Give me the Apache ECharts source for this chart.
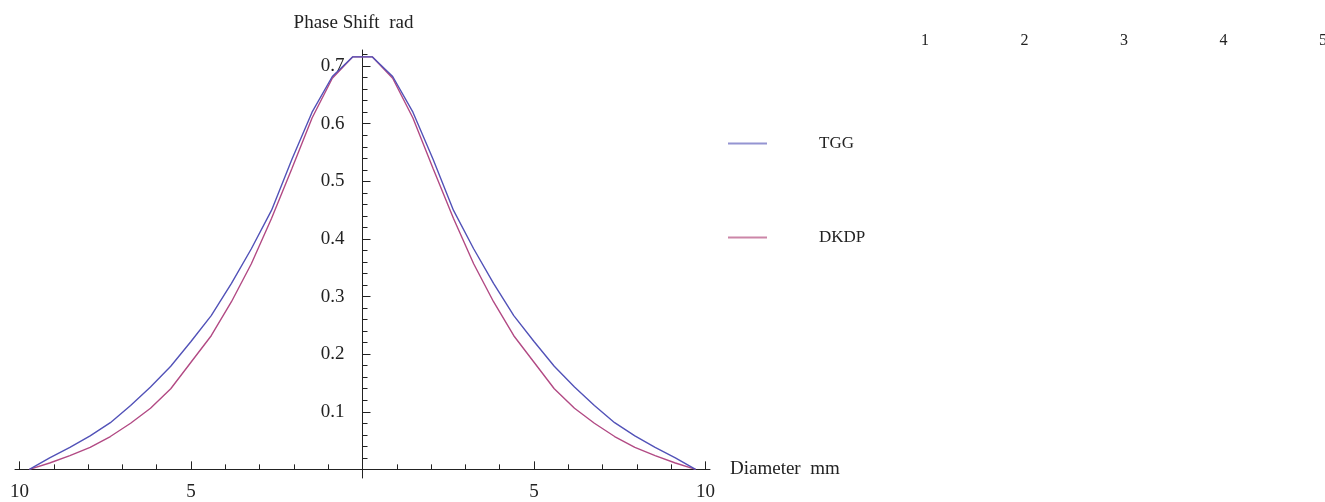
<!DOCTYPE html>
<html>
<head>
<meta charset="utf-8">
<script src="https://cdn.jsdelivr.net/npm/echarts@6/dist/echarts.min.js"></script>
<style>
  html, body { margin: 0; padding: 0; background: #fff; }
  #main { width: 1325px; height: 502px; }
</style>
</head>
<body>
<div id="main"></div>
<script>
// sample positions along the diameter (mm)
const diam = [-9.71, -9.12, -8.53, -7.94, -7.35, -6.76, -6.18, -5.59, -5.0, -4.41, -3.82, -3.24, -2.65, -2.06, -1.47, -0.88, -0.29,
              0.29, 0.88, 1.47, 2.06, 2.65, 3.24, 3.82, 4.41, 5.0, 5.59, 6.18, 6.76, 7.35, 7.94, 8.53, 9.12, 9.71];
// phase shift (rad)
const tgg  = [0.000, 0.020, 0.038, 0.058, 0.081, 0.111, 0.143, 0.179, 0.222, 0.267, 0.323, 0.383, 0.450, 0.538, 0.620, 0.682, 0.716,
              0.716, 0.682, 0.620, 0.538, 0.450, 0.383, 0.323, 0.267, 0.222, 0.179, 0.143, 0.111, 0.081, 0.058, 0.038, 0.020, 0.000];
const dkdp = [0.000, 0.011, 0.024, 0.038, 0.057, 0.080, 0.106, 0.140, 0.186, 0.232, 0.291, 0.357, 0.436, 0.522, 0.610, 0.679, 0.716,
              0.716, 0.679, 0.610, 0.522, 0.436, 0.357, 0.291, 0.232, 0.186, 0.140, 0.106, 0.080, 0.057, 0.038, 0.024, 0.011, 0.000];
// ticks
const xMajor = [-10, -5, 5, 10];
const xMinor = [-10, -9, -8, -7, -6, -5, -4, -3, -2, -1, 1, 2, 3, 4, 5, 6, 7, 8, 9, 10];
const yMajor = [0.1, 0.2, 0.3, 0.4, 0.5, 0.6, 0.7];
const yMinor = [0.02, 0.04, 0.06, 0.08, 0.12, 0.14, 0.16, 0.18, 0.22, 0.24, 0.26, 0.28, 0.32, 0.34, 0.36, 0.38,
                0.42, 0.44, 0.46, 0.48, 0.52, 0.54, 0.56, 0.58, 0.62, 0.64, 0.66, 0.68, 0.72];
const topLabels = [1, 2, 3, 4, 5];

const FONT = "'Liberation Serif', 'DejaVu Serif', serif";
const TXT = '#222';
const AX = '#222';

const chart = echarts.init(document.getElementById('main'), null, {renderer: 'canvas'});

const xRange = {min: -10.13, max: 10.13};
const yRange = {min: -0.015, max: 0.728};
const G = {left: 15, right: 615, top: 50, bottom: 24};
const gw = 1325 - G.left - G.right, gh = 502 - G.top - G.bottom;
// axes cross at (0,0): shift them inside the grid
const yOff = -(0 - xRange.min) / (xRange.max - xRange.min) * gw;
const xOff = -(0 - yRange.min) / (yRange.max - yRange.min) * gh;

chart.setOption({
    backgroundColor: '#fff',
    animation: false,
    grid: [
        Object.assign({outerBoundsMode: 'none', containLabel: false}, G),
        {left: 925, right: 2, top: 51, height: 10, outerBoundsMode: 'none', containLabel: false}
    ],
    legend: {
        orient: 'vertical',
        left: 728,
        top: 135,
        padding: 0,
        itemGap: 77,
        itemWidth: 39,
        itemHeight: 2,
        icon: 'rect',
        textStyle: {fontFamily: FONT, fontSize: 17, color: TXT, padding: [0, 0, 0, 47]},
        data: [
            {name: 'TGG', itemStyle: {color: '#9494d2'}},
            {name: 'DKDP', itemStyle: {color: '#cc86a8'}}
        ]
    },
    xAxis: [
        {
            type: 'value', gridIndex: 0, min: xRange.min, max: xRange.max, position: 'bottom', offset: xOff,
            name: 'Diameter  mm', nameLocation: 'end', nameGap: 20,
            nameTextStyle: {fontFamily: FONT, fontSize: 19, color: TXT, align: 'left', verticalAlign: 'middle'},
            axisLine: {show: true, onZero: false, lineStyle: {color: AX, width: 1}},
            axisTick: {show: true, inside: true, length: 8, customValues: xMajor, lineStyle: {color: AX}},
            axisLabel: {show: true, customValues: xMajor, margin: 13, fontFamily: FONT, fontSize: 19, color: TXT,
                formatter: v => String(Math.abs(v))},
            splitLine: {show: false}
        },
        {
            type: 'value', gridIndex: 0, min: xRange.min, max: xRange.max, position: 'bottom', offset: xOff,
            axisLine: {show: false, onZero: false},
            axisTick: {show: true, inside: true, length: 5, customValues: xMinor, lineStyle: {color: AX}},
            axisLabel: {show: false},
            splitLine: {show: false}
        },
        {
            type: 'value', gridIndex: 1, min: 1, max: 5, interval: 1, position: 'top',
            axisLine: {show: false}, axisTick: {show: false}, splitLine: {show: false},
            axisLabel: {show: true, margin: 2, fontFamily: FONT, fontSize: 16, color: TXT,
                customValues: topLabels, formatter: v => String(v)}
        }
    ],
    yAxis: [
        {
            type: 'value', gridIndex: 0, min: yRange.min, max: yRange.max, position: 'left', offset: yOff,
            name: 'Phase Shift  rad', nameLocation: 'end', nameGap: 17,
            nameTextStyle: {fontFamily: FONT, fontSize: 19, color: TXT, align: 'center', padding: [0, 18, 0, 0]},
            axisLine: {show: true, onZero: false, lineStyle: {color: AX, width: 1}},
            axisTick: {show: true, inside: true, length: 8, customValues: yMajor, lineStyle: {color: AX}},
            axisLabel: {show: true, customValues: yMajor, margin: 18, fontFamily: FONT, fontSize: 19, color: TXT,
                formatter: v => v.toFixed(1)},
            splitLine: {show: false}
        },
        {
            type: 'value', gridIndex: 0, min: yRange.min, max: yRange.max, position: 'left', offset: yOff,
            axisLine: {show: false, onZero: false},
            axisTick: {show: true, inside: true, length: 5, customValues: yMinor, lineStyle: {color: AX}},
            axisLabel: {show: false},
            splitLine: {show: false}
        },
        {
            type: 'value', gridIndex: 1, min: 0, max: 1, show: false
        }
    ],
    series: [
        {
            name: 'TGG', type: 'line', xAxisIndex: 0, yAxisIndex: 0,
            data: diam.map((d, i) => [d, tgg[i]]),
            showSymbol: false, smooth: false,
            lineStyle: {color: '#5252b8', width: 1.4},
            itemStyle: {color: '#5252b8'}, z: 3
        },
        {
            name: 'DKDP', type: 'line', xAxisIndex: 0, yAxisIndex: 0,
            data: diam.map((d, i) => [d, dkdp[i]]),
            showSymbol: false, smooth: false,
            lineStyle: {color: '#b24a84', width: 1.4},
            itemStyle: {color: '#b24a84'}, z: 2
        }
    ]
});
window.addEventListener('resize', () => chart.resize());
</script>
</body>
</html>
